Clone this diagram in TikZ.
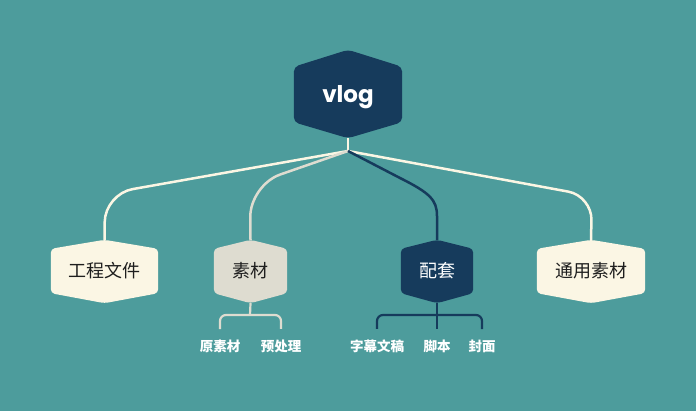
\documentclass[tikz,border=0pt]{standalone}
\usepackage{fontspec}
\setmainfont{Poppins}
\newfontfamily\cjk{Noto Sans CJK SC}
\usepackage{xcolor}
\usepackage{tikz}
\usetikzlibrary{calc,backgrounds}
\definecolor{sea}{HTML}{4D9C9C}
\definecolor{navy}{HTML}{163B5C}
\definecolor{cream}{HTML}{FBF6E4}
\definecolor{sand}{HTML}{DEDCD0}
\definecolor{ink}{HTML}{1E1E1E}
\tikzset{
  hexnode/.style={inner sep=0pt, minimum height=44pt, align=center},
  rootlab/.style={hexnode, minimum width=108pt, minimum height=55pt, text=white, font=\fontsize{23}{26}\selectfont\bfseries},
  kidlab/.style={hexnode, text=ink, font=\cjk\fontsize{18}{21}\selectfont},
  leaflab/.style={text=white, font=\cjk\fontsize{13.5}{16}\selectfont\bfseries},
  link/.style={draw=cream, line width=2.5pt, rounded corners=28pt},
  brace/.style={line width=2.2pt, rounded corners=6pt}
}
% hexagon round a node: name, rise above, drop below
\newcommand\hexpath[3]{(#1.north west) -- ([yshift=#2]#1.north) -- (#1.north east)
  -- (#1.south east) -- ([yshift=-#3]#1.south) -- (#1.south west) -- cycle}

\begin{document}
\begin{tikzpicture}[x=1pt, y=-1pt]
  \useasboundingbox (0,0) rectangle (696,411);

  \node[rootlab] (vlog) at (348,94.5) {\raisebox{-8.5pt}[0pt][0pt]{vlog}};
  \node[kidlab, minimum width=107pt] (proj) at (104.5,271) {工程文件};
  \node[kidlab, minimum width=73pt] (media) at (250.5,271) {素材};
  \node[kidlab, minimum width=72pt, text=white] (extra) at (437,271) {配套};
  \node[kidlab, minimum width=108pt] (common) at (591,271) {通用素材};

  \node[leaflab] (raw) at (220,346) {原素材};
  \node[leaflab] (prep) at (281,346) {预处理};
  \node[leaflab] (subs) at (377,346) {字幕文稿};
  \node[leaflab] (script) at (437,346) {脚本};
  \node[leaflab] (cover) at (482,346) {封面};

  \begin{pgfonlayer}{background}
    \fill[sea] (0,0) rectangle (696,411);
    \fill[navy, rounded corners=5pt] \hexpath{vlog}{17pt}{16pt};
    \foreach \n/\c in {proj/cream, media/sand, extra/navy, common/cream}
      \fill[\c, rounded corners=4pt] \hexpath{\n}{9pt}{10pt};
  \end{pgfonlayer}

  \coordinate (vlog-bot) at ([yshift=-16pt]vlog.south);
  \coordinate (J) at (348,151);
  \foreach \n in {proj,media,extra,common}
    \coordinate (\n-top) at ([yshift=9pt]\n.north);
  \foreach \n in {media,extra}
    \coordinate (\n-bot) at ([yshift=-10pt]\n.south);

  \draw[link, rounded corners=0pt] (vlog-bot) -- (J);
  \draw[link] (J) -- (105,194) -- (proj-top);
  \draw[link, draw=sand, rounded corners=32pt] (J) -- (250,185) -- (media-top);
  \draw[link, rounded corners=24pt] (J) -- (592,196) -- (common-top);
  \draw[link, draw=navy, rounded corners=0pt] (J) -- (400,178) .. controls (430,193) and (437,200) .. (437,216) -- (extra-top);

  % leaves under 素材 and 配套
  \draw[brace, sand] (media-bot) -- (250,315);
  \draw[brace, sand] ([yshift=7pt]raw.north) -- (220,315) -- (281,315) -- ([yshift=7pt]prep.north);
  \draw[brace, navy] (extra-bot) -- ([yshift=7pt]script.north);
  \draw[brace, navy] ([yshift=7pt]subs.north) -- (377,315) -- (482,315) -- ([yshift=7pt]cover.north);
\end{tikzpicture}
\end{document}
